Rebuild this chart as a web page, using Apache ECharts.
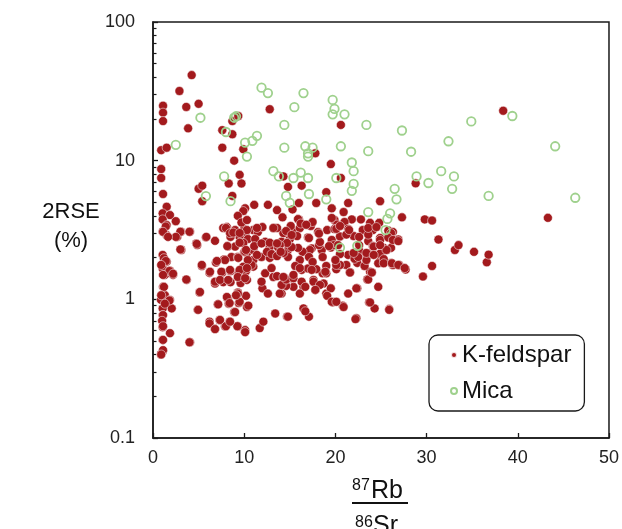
<!DOCTYPE html>
<html><head><meta charset="utf-8">
<script src="https://cdn.jsdelivr.net/npm/echarts@6/dist/echarts.min.js"></script>
<style>html,body{margin:0;padding:0;background:#fff}#c{width:622px;height:529px}</style>
</head><body><div id="c"></div>
<script>
const xTicks = [0, 10, 20, 30, 40, 50];
const yTicks = [0.1, 1, 10, 100];
const yMinorTicks = [0.2,0.3,0.4,0.5,0.6,0.7,0.8,0.9,2,3,4,5,6,7,8,9,20,30,40,50,60,70,80,90];
const seriesNames = ['K-feldspar', 'Mica'];

const kfeldspar = [
[4.24,41.4],[2.9,31.8],[1.1,24.9],[1.1,22.2],[1.1,19.3],[3.65,24.4],[5.0,25.7],[3.85,17.1],[8.7,19.3],[9.35,21.0],
[12.8,23.5],[20.6,18.1],[7.6,16.6],[8.7,15.5],[9.9,12.1],[7.6,12.4],[8.9,10.0],[0.9,11.9],[1.5,12.4],[17.8,11.3],
[19.5,9.45],[20.6,7.5],[14.3,7.7],[9.5,7.9],[8.3,6.85],[9.7,6.85],[0.9,8.7],[0.9,7.5],[1.1,5.75],[5.0,6.27],
[5.4,6.6],[5.4,5.1],[8.7,5.57],[16.3,6.6],[14.8,6.47],[19.0,5.93],[19.6,4.53],[21.4,4.95],[24.9,5.1],[17.9,4.95],
[16.0,4.95],[15.3,4.45],[12.6,4.8],[11.1,4.8],[13.6,4.4],[14.2,3.9],[16.0,3.77],[20.9,4.26],[21.8,3.77],[22.8,3.77],
[23.8,3.56],[24.8,3.56],[19.9,3.73],[10.1,4.53],[9.9,4.33],[9.3,4.0],[38.4,22.9],[43.3,3.87],[28.8,6.86],[27.3,3.9],
[29.8,3.77],[30.6,3.7],[31.3,2.7],[30.6,1.74],[29.6,1.46],[33.1,2.27],[33.5,2.46],[35.2,2.2],[36.6,1.85],[36.8,2.1],
[1.5,4.65],[1.06,4.17],[1.86,4.05],[2.5,3.66],[1.06,3.77],[1.5,3.43],[1.06,3.07],[1.5,2.9],[3.07,3.07],[4.06,3.07],
[2.66,2.82],[3.07,2.29],[4.75,2.53],[5.8,2.8],[6.8,2.64],[1.06,2.09],[1.5,1.87],[1.06,1.67],[1.86,1.61],[2.2,1.5],
[1.3,1.5],[3.7,1.38],[1.1,1.23],[1.3,1.07],[1.86,0.99],[2.05,0.86],[1.06,0.86],[1.06,0.77],[1.06,0.63],[1.86,0.57],
[1.06,0.51],[4.06,0.49],[1.06,0.42],[0.88,0.4],[0.88,0.99],
[1.2,1.98],[1.4,1.89],[0.9,1.77],[1.8,1.6],[2.2,1.53],[1.1,1.5],[1.2,1.23],[0.9,1.07],[1.8,0.98],[1.3,0.93],
[1.1,0.77],[1.0,0.7],[1.1,0.64],[1.1,0.51],[1.1,0.43],[0.9,0.4],[3.1,2.27],[3.65,1.39],[4.0,0.49],[5.1,1.12],
[4.9,0.84],[5.36,1.74],[6.2,1.55],[6.9,1.84],[7.8,1.94],[8.6,2.02],[9.3,2.02],[7.6,1.56],[8.5,1.6],[9.4,1.56],
[10.2,1.6],[6.8,1.3],[7.7,1.33],[8.5,1.33],[9.6,1.31],[8.2,1.01],[9.3,1.12],[10.2,1.06],[7.1,0.92],[8.3,0.93],
[9.4,0.94],[8.9,0.81],[6.2,0.69],[7.3,0.71],[6.8,0.61],[7.9,0.64],[8.4,0.69],[9.3,0.64],[10.1,0.59],[10.3,2.16],
[1.4,3.35],[1.1,3.07],[3.0,3.07],[4.0,3.07],[2.5,2.82],[1.65,2.82],[3.0,2.29],[7.7,3.27],[8.1,3.32],[9.0,3.16],
[10.0,3.2],[9.5,2.82],[8.5,2.82],[4.85,2.46],[5.85,2.82],[8.2,2.4],[9.0,2.4],[10.0,2.2],
[9.7,3.58],[10.3,3.73],[11.0,3.16],[11.5,3.06],[12.0,3.32],[10.2,3.06],[10.4,2.72],[13.2,3.27],[14.3,3.0],[15.3,3.16],
[16.1,3.27],[15.9,3.79],[16.2,3.52],[17.3,3.38],[18.1,3.06],[19.1,3.16],[19.6,2.68],[15.0,2.72],[15.8,2.86],[11.2,2.72],
[12.3,2.6],[12.8,2.38],[13.7,2.38],[14.6,2.53],[14.1,2.6],[17.0,2.79],[17.4,2.33],[18.5,2.27],[19.5,2.36],[11.0,2.27],
[9.9,2.55],[14.8,2.27],
[19.6,3.86],[20.2,3.46],[19.9,3.21],[21.0,3.61],[21.4,3.22],[23.0,3.16],[24.1,3.16],[25.8,3.13],[26.3,3.06],[20.5,2.84],
[22.0,2.86],[23.6,2.63],[24.9,2.77],[26.1,3.0],[26.9,2.7],[24.1,2.42],[25.3,2.35],[26.1,2.35],[19.8,2.46],[21.4,2.09],
[22.5,2.05],[23.6,2.14],[24.9,2.05],
[27.7,1.64],[27.0,1.77],[26.3,1.77],[26.1,1.83],[24.7,1.82],[23.8,1.58],[23.5,1.39],[24.7,1.23],[22.4,1.2],[21.4,1.1],
[23.7,0.95],[24.3,0.86],[25.9,0.85],[22.3,0.73],[19.7,0.95],[20.8,0.9],[16.5,0.86],[17.1,0.75],[14.7,0.75],[19.0,1.1],
[18.7,1.3],[19.5,1.2],[17.8,1.17],[18.6,1.54],[17.6,1.38],[16.5,1.23],[15.4,1.23],[14.6,1.25],[14.1,1.1],[16.1,1.1],
[15.2,1.42],[14.5,1.42],[16.3,1.63],[17.0,1.67],[17.9,1.65],[19.0,1.74],[20.1,1.65],[21.2,1.77],[21.6,1.57],[22.4,1.83],
[23.2,1.74],[22.1,1.96],[23.7,2.09],[24.2,2.4],[24.9,2.13],[25.3,1.95],[25.6,2.27],[22.6,2.25],[22.6,2.46],[20.5,2.12],
[20.3,2.46],[19.3,2.42],[18.2,2.46],[18.3,2.59],[17.2,2.27],[16.4,2.2],[15.9,2.35],[15.2,2.38],[14.7,2.55],[13.9,2.46],
[16.1,1.92],[17.1,2.02],[17.5,1.86],[15.6,1.74],[14.8,2.02],[14.3,2.16],[18.6,2.02],[21.2,2.93],[21.5,3.16],[22.6,2.82],
[23.6,2.93],[24.9,2.68],[24.9,2.46],[25.8,2.79],[26.3,2.68],[26.9,2.63],[23.6,3.27],[24.5,3.32],[20.1,3.22],[20.5,3.38],
[17.5,3.61],[16.8,3.45],[15.1,3.38],[14.6,3.11],[15.2,2.91],[17.1,2.77],[18.2,2.98],
[10.1,2.21],[11.0,1.72],[10.3,1.38],[9.5,0.96],[10.3,0.88],[10.1,0.6],[11.7,0.62],[12.1,0.69],[13.4,0.79],[14.8,0.75],
[16.7,0.82],[12.0,1.2],[12.6,1.1],[13.9,1.1],[14.1,1.27],[14.6,1.39],[13.2,1.45],[12.3,1.54],[11.0,1.92],[11.9,2.02],
[12.8,1.99],[13.0,1.68],[13.6,1.47],[14.3,1.45],[15.4,1.42],[16.3,1.34],[16.7,1.23],[17.6,1.34],[18.3,1.27],[19.0,1.54],
[19.1,1.06],[19.6,0.96],[20.1,0.96],[20.9,0.88],[22.3,1.2],[22.2,0.72],[23.8,0.95],[25.9,0.84],[23.6,1.39],[24.0,1.56],
[20.5,1.77],[21.6,1.56],[18.9,1.58],[17.4,1.63],[16.1,1.68],[15.4,1.5],[9.9,1.72],[10.8,1.77],[11.9,1.34],[17.8,1.17],
[25.3,1.82],[26.2,1.82],[26.9,1.77],[27.6,1.68],[23.4,1.92],[22.5,2.02],[22.0,2.16],[23.4,2.16],[24.2,2.09],[20.1,1.77],
[20.0,1.92],
[8.0,3.27],[13.6,3.27],[13.2,3.27],[11.4,3.27],[10.3,3.16],[8.45,3.0],[8.8,3.03],[9.5,3.01],[4.8,2.51],[8.15,2.42],
[9.5,2.56],[10.2,2.27],[11.1,2.42],[11.9,2.53],[12.8,2.56],[13.6,2.53],[12.5,2.2],[13.0,2.12],[13.6,2.05],[14.0,2.2],
[11.4,2.09],[10.4,1.92],[9.35,1.99],[7.9,1.92],[7.0,1.89],[5.35,1.77],[6.25,1.58],[7.5,1.58],[8.45,1.63],[6.8,1.34],
[7.35,1.38],[8.25,1.38],[9.5,1.63],[10.3,1.68],[9.3,1.45],[10.1,1.42],[5.15,1.13],[8.1,1.04],[8.4,0.94],[9.3,1.1],
[9.1,1.07],[10.45,0.9],[7.15,0.92],[9.0,0.81],[4.95,0.84],[6.2,0.67],[6.8,0.61],[7.35,0.71],[8.0,0.64],[9.25,0.64],
[10.1,0.58],[8.45,0.69]
];

const mica = [
[2.5,13.0],[5.2,20.4],[11.9,33.6],[12.6,30.7],[16.5,30.7],[15.5,24.3],[19.7,27.4],[19.9,23.6],[19.7,21.6],[21.0,21.6],
[8.9,20.4],[9.1,20.9],[8.0,16.1],[14.4,18.1],[23.4,18.1],[11.4,15.1],[10.9,13.9],[10.1,13.5],[10.3,10.7],[14.4,12.4],
[16.7,12.7],[17.5,12.4],[17.0,11.3],[17.0,10.7],[20.6,12.7],[23.6,11.7],[21.8,9.7],[22.0,8.4],[22.0,6.8],[21.8,6.06],
[23.6,4.26],[13.2,8.4],[13.8,7.7],[15.4,7.5],[16.2,8.2],[17.0,7.5],[20.1,7.5],[7.8,7.7],[5.8,5.55],[8.5,5.1],
[14.6,5.57],[15.0,4.97],[17.1,5.75],[19.0,5.26],[27.3,16.5],[28.3,11.6],[34.9,19.2],[39.4,21.0],[32.4,13.8],[44.1,12.7],
[28.9,7.7],[30.2,6.9],[31.6,8.4],[33.0,7.7],[32.8,6.27],[36.8,5.57],[46.3,5.4],[26.5,6.27],[26.7,5.26],[26.0,4.17],
[25.7,3.8],[25.5,3.16],[20.5,2.36],[22.4,2.43]
];

const chart = echarts.init(document.getElementById('c'), null, {renderer: 'canvas'});
const FONT = 'Liberation Sans';
const AX = '#1a1a1a';

chart.setOption({
  animation: false,
  backgroundColor: '#fff',
  textStyle: {fontFamily: FONT},
  grid: {left: 153, top: 22, right: 13, bottom: 91, show: true, borderColor: AX, borderWidth: 1.5, containLabel: false},
  legend: {
    data: seriesNames,
    orient: 'vertical',
    left: 429, top: 335,
    backgroundColor: '#fff',
    borderColor: AX, borderWidth: 1.3, borderRadius: 9,
    padding: [8, 13, 8, 21],
    itemGap: 12,
    itemWidth: 6, itemHeight: 6,
    icon: 'circle',
    textStyle: {fontFamily: FONT, fontSize: 24, color: '#111', padding: [0, 0, 0, 0]}
  },
  xAxis: {
    type: 'value', min: xTicks[0], max: xTicks[xTicks.length - 1], interval: 10,
    axisLine: {show: true, lineStyle: {color: AX, width: 1.5}},
    axisTick: {show: true, inside: true, length: 5, lineStyle: {color: AX, width: 1.3}},
    axisLabel: {fontFamily: FONT, fontSize: 18, color: '#222', margin: 11},
    splitLine: {show: false}
  },
  yAxis: [{
    type: 'log', logBase: 10, min: yTicks[0], max: yTicks[yTicks.length - 1],
    axisLine: {show: true, lineStyle: {color: AX, width: 1.5}},
    axisTick: {show: true, inside: true, length: 5, lineStyle: {color: AX, width: 1.3}},
    axisLabel: {fontFamily: FONT, fontSize: 18, color: '#222', margin: 18,
      formatter: v => String(Number(v.toPrecision(3)))},
    splitLine: {show: false}
  }, {
    type: 'log', logBase: 10, min: yTicks[0], max: yTicks[yTicks.length - 1], position: 'left',
    axisLine: {show: false},
    axisTick: {show: true, inside: true, length: 3.5, customValues: yMinorTicks, lineStyle: {color: AX, width: 1.2}},
    axisLabel: {show: false},
    splitLine: {show: false}
  }],
  series: [{
    name: seriesNames[0], type: 'scatter', data: kfeldspar, symbol: 'circle', symbolSize: 9, silent: true,
    itemStyle: {color: '#a31a1d', borderColor: 'rgba(255,255,255,0.85)', borderWidth: 0.6, opacity: 1}
  }, {
    name: seriesNames[1], type: 'scatter', data: mica, symbol: 'circle', symbolSize: 8.5, silent: true,
    itemStyle: {color: 'rgba(255,255,255,0)', borderColor: '#9fd18d', borderWidth: 1.8, opacity: 1}
  }],
  graphic: [
    {type: 'text', x: 71, y: 212, style: {text: '2RSE', font: '22px "Liberation Sans"', fill: '#111', align: 'center', verticalAlign: 'middle'}},
    {type: 'text', x: 71, y: 241, style: {text: '(%)', font: '22px "Liberation Sans"', fill: '#111', align: 'center', verticalAlign: 'middle'}},
    {type: 'text', x: 352, y: 486, style: {text: '87', font: '16px "Liberation Sans"', fill: '#111', align: 'left', verticalAlign: 'middle'}},
    {type: 'text', x: 371, y: 491, style: {text: 'Rb', font: '25px "Liberation Sans"', fill: '#111', align: 'left', verticalAlign: 'middle'}},
    {type: 'line', shape: {x1: 352, y1: 503, x2: 408, y2: 503}, style: {stroke: '#111', lineWidth: 2}},
    {type: 'text', x: 355, y: 523, style: {text: '86', font: '16px "Liberation Sans"', fill: '#111', align: 'left', verticalAlign: 'middle'}},
    {type: 'text', x: 373, y: 526, style: {text: 'Sr', font: '25px "Liberation Sans"', fill: '#111', align: 'left', verticalAlign: 'middle'}}
  ]
});
</script>
</body></html>
